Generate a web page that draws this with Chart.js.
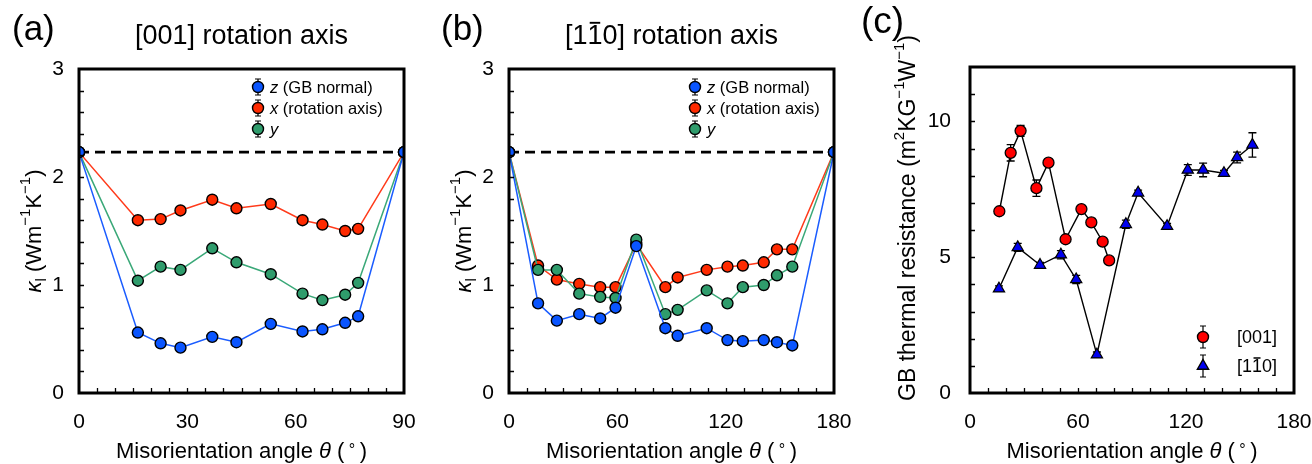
<!DOCTYPE html>
<html>
<head>
<meta charset="utf-8">
<script src="https://cdn.jsdelivr.net/npm/chart.js@4.4.0/dist/chart.umd.min.js"></script>
<style>
  html, body { margin: 0; padding: 0; background: #fff; }
  #wrap { position: relative; width: 1312px; height: 464px; }
  canvas { position: absolute; top: 0; }
</style>
</head>
<body>
<div id="wrap">
  <canvas id="chartA" width="430" height="464" style="left:0"></canvas>
  <canvas id="chartB" width="430" height="464" style="left:430px"></canvas>
  <canvas id="chartC" width="452" height="464" style="left:860px"></canvas>
</div>
<script>
// data
const kappaBulk = 2.23;

// (a) [001] rotation axis, lattice thermal conductivity
const anglesA = [0, 16.3, 22.6, 28.1, 36.9, 43.6, 53.1, 61.9, 67.4, 73.7, 77.3, 90];
const zA = [2.23, 0.56, 0.46, 0.42, 0.52, 0.47, 0.64, 0.57, 0.59, 0.65, 0.71, 2.23];
const xA = [2.23, 1.60, 1.61, 1.69, 1.79, 1.71, 1.75, 1.60, 1.56, 1.50, 1.52, 2.23];
const yA = [2.23, 1.04, 1.17, 1.14, 1.34, 1.21, 1.10, 0.92, 0.86, 0.91, 1.02, 2.23];

// (b) [1-10] rotation axis
const anglesB = [0, 16.1, 26.5, 38.9, 50.5, 59.0, 70.5, 86.6, 93.4, 109.5, 121.0, 129.5, 141.1, 148.4, 156.9, 180];
const zB = [2.23, 0.83, 0.67, 0.73, 0.69, 0.79, 1.36, 0.60, 0.53, 0.60, 0.49, 0.48, 0.49, 0.47, 0.44, 2.23];
const xB = [2.23, 1.18, 1.05, 1.01, 0.98, 0.98, 1.38, 0.98, 1.07, 1.14, 1.17, 1.18, 1.21, 1.33, 1.33, 2.23];
const yB = [2.23, 1.14, 1.14, 0.92, 0.89, 0.88, 1.42, 0.73, 0.77, 0.95, 0.83, 0.98, 1.00, 1.09, 1.17, 2.23];

// (c) GB thermal resistance
const anglesC001 = [16.3, 22.6, 28.1, 36.9, 43.6, 53.1, 61.9, 67.4, 73.7, 77.3];
const resC001 = [6.69, 8.84, 9.65, 7.54, 8.48, 5.66, 6.77, 6.28, 5.57, 4.88];
const errC001 = [0.1, 0.3, 0.2, 0.3, 0.1, 0.1, 0.1, 0.15, 0.1, 0.1];
const anglesC110 = [16.1, 26.5, 38.9, 50.5, 59.0, 70.5, 86.6, 93.4, 109.5, 121.0, 129.5, 141.1, 148.4, 156.9];
const resC110 = [3.84, 5.36, 4.71, 5.09, 4.18, 1.41, 6.21, 7.37, 6.14, 8.21, 8.21, 8.09, 8.67, 9.13];
const errC110 = [0.1, 0.15, 0.1, 0.15, 0.15, 0.1, 0.15, 0.1, 0.1, 0.2, 0.25, 0.1, 0.2, 0.45];

const FONT = '"Liberation Sans", Arial, Helvetica, sans-serif';
const BLUE = '#0a55ff', RED = '#ff2a00', GREEN = '#2f9c6c';
const BLUE_LINE = '#1a5cff', RED_LINE = '#ff3a1a', GREEN_LINE = '#3aa878';

function font(size, italic) {
  return (italic ? 'italic ' : '') + size + 'px ' + FONT;
}

function pts(xs, ys) {
  return xs.map((x, i) => ({ x: x, y: ys[i] }));
}

// draws a row of text pieces (for sub/superscripts, italics, overbars)
function drawRich(ctx, parts, x, y, align) {
  let total = 0;
  const ws = parts.map(p => {
    ctx.font = font(p.s, p.i);
    const w = ctx.measureText(p.t).width;
    total += w;
    return w;
  });
  let cx = align === 'center' ? x - total / 2 : x;
  ctx.textAlign = 'left';
  ctx.textBaseline = 'alphabetic';
  parts.forEach((p, k) => {
    ctx.font = font(p.s, p.i);
    const yy = y + (p.dy || 0);
    ctx.fillText(p.t, cx, yy);
    if (p.bar) {
      ctx.fillRect(cx + ws[k] * 0.15, yy - p.s * 0.82, ws[k] * 0.7, Math.max(1.5, p.s * 0.07));
    }
    cx += ws[k];
  });
}

const xTitle = [
  { t: 'Misorientation angle ', s: 22 },
  { t: 'θ', s: 22, i: true },
  { t: ' (\u2009', s: 22 },
  { t: '°', s: 16, dy: -3 },
  { t: '\u2009)', s: 22 }
];
const kappaTitle = [
  { t: 'κ', s: 22, i: true },
  { t: 'l', s: 15, dy: 5 },
  { t: ' (Wm', s: 22 },
  { t: '−1', s: 15, dy: -11 },
  { t: 'K', s: 22 },
  { t: '−1', s: 15, dy: -11 },
  { t: ')', s: 22 }
];
const kappaLegend = [
  { color: BLUE, parts: [{ t: 'z', s: 16.5, i: true }, { t: ' (GB normal)', s: 16.5 }] },
  { color: RED, parts: [{ t: 'x', s: 16.5, i: true }, { t: ' (rotation axis)', s: 16.5 }] },
  { color: GREEN, parts: [{ t: 'y', s: 16.5, i: true }] }
];

// per-panel decoration settings (positions in canvas pixels)
const panels = {
  chartA: {
    letter: '(a)', letterX: 12, letterY: 40, letterSize: 35,
    title: [{ t: '[001] rotation axis', s: 27 }], titleY: 44,
    yTitle: kappaTitle, yTitleX: 41, yTitleShift: 0,
    xMinor: 5, yMinor: 0.2,
    legend: kappaLegend, legX: 258, legText: 270, legY: [87, 108, 129], legR: 5.5, legErr: 8
  },
  chartB: {
    letter: '(b)', letterX: 11, letterY: 40, letterSize: 35,
    title: [{ t: '[1', s: 27 }, { t: '1', s: 27, bar: true }, { t: '0] rotation axis', s: 27 }], titleY: 44,
    yTitle: kappaTitle, yTitleX: 41, yTitleShift: 0,
    xMinor: 10, yMinor: 0.2,
    legend: kappaLegend, legX: 265, legText: 277, legY: [87, 108, 129], legR: 5.5, legErr: 8
  },
  chartC: {
    letter: '(c)', letterX: 1, letterY: 33, letterSize: 37,
    title: null,
    yTitle: [
      { t: 'GB thermal resistance (m', s: 23 },
      { t: '2', s: 15, dy: -11 },
      { t: 'KG', s: 23 },
      { t: '−1', s: 15, dy: -11 },
      { t: 'W', s: 23 },
      { t: '−1', s: 15, dy: -11 },
      { t: ')', s: 23 }
    ], yTitleX: 55, yTitleShift: -12,
    xMinor: 10, yMinor: 1,
    legend: [
      { color: '#ff0000', shape: 'circle', parts: [{ t: '[001]', s: 18 }] },
      { color: '#0000ee', shape: 'triangle', parts: [{ t: '[1', s: 18 }, { t: '1', s: 18, bar: true }, { t: '0]', s: 18 }] }
    ],
    legX: 343, legText: 377, legY: [337, 366], legR: 5.5, legErr: 11
  }
};

const decorPlugin = {
  id: 'decor',
  beforeDatasetsDraw(chart) {
    // error bars under the markers
    const ctx = chart.ctx;
    const xs = chart.scales.x, ys = chart.scales.y;
    chart.data.datasets.forEach(ds => {
      if (!ds.errors) return;
      ctx.save();
      ctx.strokeStyle = '#000';
      ctx.lineWidth = 1.3;
      ds.data.forEach((p, j) => {
        const px = xs.getPixelForValue(p.x);
        const y1 = ys.getPixelForValue(p.y + ds.errors[j]);
        const y2 = ys.getPixelForValue(p.y - ds.errors[j]);
        ctx.beginPath();
        ctx.moveTo(px, y1); ctx.lineTo(px, y2);
        ctx.moveTo(px - 4, y1); ctx.lineTo(px + 4, y1);
        ctx.moveTo(px - 4, y2); ctx.lineTo(px + 4, y2);
        ctx.stroke();
      });
      ctx.restore();
    });
  },
  afterDraw(chart) {
    const cfg = panels[chart.canvas.id];
    const ctx = chart.ctx;
    const a = chart.chartArea;
    const xs = chart.scales.x, ys = chart.scales.y;
    ctx.save();
    ctx.fillStyle = '#000';
    ctx.strokeStyle = '#000';

    // frame
    ctx.lineWidth = 3;
    ctx.strokeRect(a.left, a.top, a.right - a.left, a.bottom - a.top);

    // inward tick marks on left and bottom
    ctx.lineWidth = 1.3;
    ctx.beginPath();
    for (let v = xs.min + cfg.xMinor; v < xs.max - 1e-6; v += cfg.xMinor) {
      const px = Math.round(xs.getPixelForValue(v)) + 0.5;
      ctx.moveTo(px, a.bottom); ctx.lineTo(px, a.bottom - 5);
    }
    for (let v = ys.min + cfg.yMinor; v < ys.max - 1e-6; v += cfg.yMinor) {
      const py = Math.round(ys.getPixelForValue(v)) + 0.5;
      ctx.moveTo(a.left, py); ctx.lineTo(a.left + 5, py);
    }
    ctx.stroke();

    // panel letter and title
    ctx.font = font(cfg.letterSize);
    ctx.textAlign = 'left';
    ctx.textBaseline = 'alphabetic';
    ctx.fillText(cfg.letter, cfg.letterX, cfg.letterY);
    if (cfg.title) drawRich(ctx, cfg.title, (a.left + a.right) / 2, cfg.titleY, 'center');

    // axis titles
    drawRich(ctx, xTitle, (a.left + a.right) / 2, 458, 'center');
    ctx.save();
    ctx.translate(cfg.yTitleX, (a.top + a.bottom) / 2 + cfg.yTitleShift);
    ctx.rotate(-Math.PI / 2);
    drawRich(ctx, cfg.yTitle, 0, 0, 'center');
    ctx.restore();

    // legend
    cfg.legend.forEach((item, k) => {
      const lx = cfg.legX, ly = cfg.legY[k];
      ctx.lineWidth = 1.2;
      ctx.beginPath();
      ctx.moveTo(lx, ly - cfg.legErr); ctx.lineTo(lx, ly + cfg.legErr);
      ctx.moveTo(lx - 3, ly - cfg.legErr); ctx.lineTo(lx + 3, ly - cfg.legErr);
      ctx.moveTo(lx - 3, ly + cfg.legErr); ctx.lineTo(lx + 3, ly + cfg.legErr);
      ctx.stroke();
      ctx.fillStyle = item.color;
      ctx.beginPath();
      if (item.shape === 'triangle') {
        const r = 6.5;
        ctx.moveTo(lx, ly - r);
        ctx.lineTo(lx + r * 0.866, ly + r / 2);
        ctx.lineTo(lx - r * 0.866, ly + r / 2);
        ctx.closePath();
      } else {
        ctx.arc(lx, ly, cfg.legR, 0, Math.PI * 2);
      }
      ctx.fill();
      ctx.lineWidth = 1.4;
      ctx.stroke();
      ctx.fillStyle = '#000';
      drawRich(ctx, item.parts, cfg.legText, ly + 6, 'left');
    });
    ctx.restore();
  }
};

function kappaSet(label, xs, ys, fill, line, order) {
  return {
    label: label,
    data: pts(xs, ys),
    borderColor: line,
    borderWidth: 1.5,
    pointBackgroundColor: fill,
    pointBorderColor: '#000',
    pointBorderWidth: 1.4,
    pointRadius: 5.5,
    order: order
  };
}

function baseOptions(xMax, xStep, yMax, yStep, leftW, rightPad, topPad, yPad) {
  return {
    responsive: false,
    devicePixelRatio: 1,
    animation: false,
    layout: { padding: { left: 0, right: rightPad, top: topPad, bottom: 0 } },
    plugins: { legend: { display: false }, tooltip: { enabled: false } },
    scales: {
      x: {
        type: 'linear', min: 0, max: xMax,
        grid: { display: false, drawTicks: false },
        border: { display: false },
        ticks: { stepSize: xStep, color: '#000', font: { family: FONT, size: 21 }, padding: 17, maxRotation: 0 },
        // keep the plot box fixed: ignore the edge-label overhang
        afterFit: s => { s.height = 71; s.paddingLeft = 0; s.paddingRight = 0; }
      },
      y: {
        type: 'linear', min: 0, max: yMax,
        grid: { display: false, drawTicks: false },
        border: { display: false },
        ticks: { stepSize: yStep, color: '#000', font: { family: FONT, size: 21 }, padding: yPad },
        afterBuildTicks: s => { s.ticks = s.ticks.filter(t => Math.abs(t.value / yStep - Math.round(t.value / yStep)) < 1e-6); },
        afterFit: s => { s.width = leftW; s.paddingTop = 0; s.paddingBottom = 0; }
      }
    }
  };
}

function bulkLine(xMax) {
  return {
    label: 'bulk',
    data: pts([0, xMax], [kappaBulk, kappaBulk]),
    borderColor: '#000',
    borderWidth: 2.6,
    borderDash: [10, 6],
    pointRadius: 0,
    order: 5
  };
}

new Chart(document.getElementById('chartA'), {
  type: 'line',
  data: {
    datasets: [
      kappaSet('z (GB normal)', anglesA, zA, BLUE, BLUE_LINE, 0),
      kappaSet('y', anglesA, yA, GREEN, GREEN_LINE, 1),
      kappaSet('x (rotation axis)', anglesA, xA, RED, RED_LINE, 2),
      bulkLine(90)
    ]
  },
  options: baseOptions(90, 30, 3, 1, 79, 26, 69, 15),
  plugins: [decorPlugin]
});

new Chart(document.getElementById('chartB'), {
  type: 'line',
  data: {
    datasets: [
      kappaSet('z (GB normal)', anglesB, zB, BLUE, BLUE_LINE, 0),
      kappaSet('y', anglesB, yB, GREEN, GREEN_LINE, 1),
      kappaSet('x (rotation axis)', anglesB, xB, RED, RED_LINE, 2),
      bulkLine(180)
    ]
  },
  options: baseOptions(180, 60, 3, 1, 79, 26, 69, 15),
  plugins: [decorPlugin]
});

new Chart(document.getElementById('chartC'), {
  type: 'line',
  data: {
    datasets: [
      {
        label: '[001]',
        data: pts(anglesC001, resC001),
        errors: errC001,
        borderColor: '#000',
        borderWidth: 1.4,
        pointStyle: 'circle',
        pointRadius: 5.5,
        pointBackgroundColor: '#ff0000',
        pointBorderColor: '#000',
        pointBorderWidth: 1.3,
        order: 0
      },
      {
        label: '[1-10]',
        data: pts(anglesC110, resC110),
        errors: errC110,
        borderColor: '#000',
        borderWidth: 1.4,
        pointStyle: 'triangle',
        pointRadius: 6.5,
        pointBackgroundColor: '#0000ee',
        pointBorderColor: '#000',
        pointBorderWidth: 1.2,
        order: 1
      }
    ]
  },
  options: baseOptions(180, 60, 12, 5, 110, 18, 67, 19),
  plugins: [decorPlugin]
});
</script>
</body>
</html>
